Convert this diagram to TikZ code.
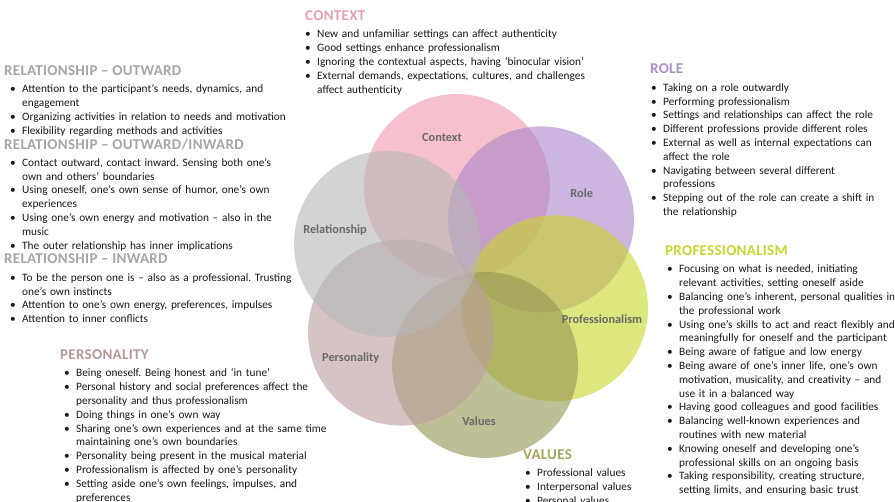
\documentclass[tikz,border=0pt]{standalone}
\usepackage{fontspec}
\setmainfont{Carlito}
\newfontfamily\headfont[LetterSpace=2]{Carlito}
\frenchspacing
\definecolor{ctxC}{RGB}{240,152,170}
\definecolor{roleC}{RGB}{170,132,200}
\definecolor{profC}{RGB}{200,214,40}
\definecolor{valC}{RGB}{147,147,82}
\definecolor{persC}{RGB}{187,157,157}
\definecolor{relC}{RGB}{183,183,183}
\definecolor{relH}{RGB}{166,166,166}
\definecolor{ctxH}{RGB}{232,160,172}
\definecolor{roleH}{RGB}{172,144,200}
\definecolor{profH}{RGB}{200,214,46}
\definecolor{persH}{RGB}{184,152,152}
\definecolor{valH}{RGB}{165,165,95}
\definecolor{lblC}{RGB}{105,105,105}
\definecolor{txtC}{RGB}{25,25,25}
\newenvironment{bul}{\begin{list}{\textbullet}{\setlength{\leftmargin}{12pt}\setlength{\labelwidth}{12pt}\setlength{\labelsep}{0pt}\setlength{\itemsep}{0pt}\setlength{\parsep}{0pt}\setlength{\topsep}{0pt}\setlength{\partopsep}{0pt}\setlength{\itemindent}{0pt}\def\makelabel##1{\strut##1\hfil}}}{\end{list}}
\tikzset{
  petal/.style={circle, draw=none, minimum size=186pt, inner sep=0pt, fill opacity=0.6},
  clab/.style={font=\bfseries\fontsize{12.3}{14}\selectfont, text=lblC, inner sep=0pt},
  head/.style={anchor=base west, inner sep=0pt, font=\headfont\bfseries\fontsize{15}{17}\selectfont},
  lst/.style={anchor=north west, inner sep=0pt, text width=340pt, align=left, font=\fontsize{11.3}{13.8}\selectfont, text=txtC}
}
\begin{document}
\begin{tikzpicture}[x=1pt,y=-1pt]
\fill[white] (0,0) rectangle (895,502);
\useasboundingbox (0,0) rectangle (895,502);
\node[petal, fill=ctxC]  (cctx)  at (456.9,187.1) {};
\node[petal, fill=roleC] (crole) at (541,219.4) {};
\node[petal, fill=profC] (cprof) at (555,308.2) {};
\node[petal, fill=valC]  (cval)  at (485.1,364.9) {};
\node[petal, fill=persC] (cpers) at (401,332.6) {};
\node[petal, fill=relC]  (crel)  at (387,243.8) {};
\node[clab] (lctx)  at (442,137.7) {Context};
\node[clab] (lrole) at (581.7,193.3) {Role};
\node[clab] (lrel)  at (335,230) {Relationship};
\node[clab] (lprof) at (602,319.3) {Professionalism};
\node[clab] (lpers) at (350.7,358.3) {Personality};
\node[clab] (lval)  at (479,421) {Values};
% relationship
\node[head, text=relH] (hro) at (4,76) {RELATIONSHIP – OUTWARD};
\node[lst] (tro) at (10,78.84) {\begin{bul}
\item Attention to the participant’s needs, dynamics, and\newline engagement
\item Organizing activities in relation to needs and motivation
\item Flexibility regarding methods and activities
\end{bul}};
\node[head, text=relH] (hroi) at (4,149.5) {RELATIONSHIP – OUTWARD/INWARD};
\node[lst] (troi) at (10,152.34) {\begin{bul}
\item Contact outward, contact inward. Sensing both one’s\newline own and others’ boundaries
\item Using oneself, one’s own sense of humor, one’s own\newline experiences
\item Using one’s own energy and motivation – also in the\newline music
\item The outer relationship has inner implications
\end{bul}};
\node[head, text=relH] (hri) at (4,264) {RELATIONSHIP – INWARD};
\node[lst] (tri) at (10,267.34) {\begin{bul}
\item To be the person one is – also as a professional. Trusting\newline one’s own instincts
\item Attention to one’s own energy, preferences, impulses
\item Attention to inner conflicts
\end{bul}};
% context
\node[head, text=ctxH] (hctx) at (305,21) {CONTEXT};
\node[lst] (tctx) at (305,23.84) {\begin{bul}
\item New and unfamiliar settings can affect authenticity
\item Good settings enhance professionalism
\item Ignoring the contextual aspects, having ‘binocular vision’
\item External demands, expectations, cultures, and challenges\newline affect authenticity
\end{bul}};
% role
\node[head, text=roleH] (hrole) at (650,74) {ROLE};
\node[lst] (trole) at (651,77.34) {\begin{bul}
\item Taking on a role outwardly
\item Performing professionalism
\item Settings and relationships can affect the role
\item Different professions provide different roles
\item External as well as internal expectations can\newline affect the role
\item Navigating between several different\newline professions
\item Stepping out of the role can create a shift in\newline the relationship
\end{bul}};
% professionalism
\node[head, text=profH] (hprof) at (665,256) {PROFESSIONALISM};
\node[lst] (tprof) at (667,258.84) {\begin{bul}
\item Focusing on what is needed, initiating\newline relevant activities, setting oneself aside
\item Balancing one’s inherent, personal qualities in\newline the professional work
\item Using one’s skills to act and react flexibly and\newline meaningfully for oneself and the participant
\item Being aware of fatigue and low energy
\item Being aware of one’s inner life, one’s own\newline motivation, musicality, and creativity – and\newline use it in a balanced way
\item Having good colleagues and good facilities
\item Balancing well-known experiences and\newline routines with new material
\item Knowing oneself and developing one’s\newline professional skills on an ongoing basis
\item Taking responsibility, creating structure,\newline setting limits, and ensuring basic trust
\end{bul}};
% personality
\node[head, text=persH] (hpers) at (60,360) {PERSONALITY};
\node[lst] (tpers) at (64,362.84) {\begin{bul}
\item Being oneself. Being honest and ‘in tune’
\item Personal history and social preferences affect the\newline personality and thus professionalism
\item Doing things in one’s own way
\item Sharing one’s own experiences and at the same time\newline maintaining one’s own boundaries
\item Personality being present in the musical material
\item Professionalism is affected by one’s personality
\item Setting aside one’s own feelings, impulses, and\newline preferences
\end{bul}};
% values
\node[head, text=valH] (hval) at (523,459.5) {VALUES};
\node[lst] (tval) at (525,462.84) {\begin{bul}
\item Professional values
\item Interpersonal values
\item Personal values
\end{bul}};
\end{tikzpicture}
\end{document}
